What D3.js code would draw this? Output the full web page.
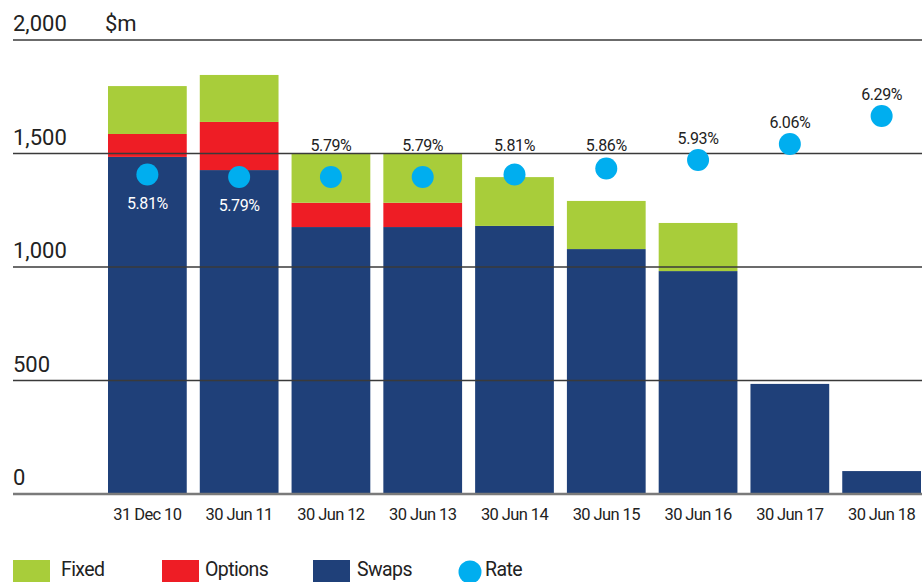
<!DOCTYPE html>
<meta charset="utf-8">
<html>
<head>
<script src="https://d3js.org/d3.v7.min.js"></script>
<style>
  body { margin: 0; background: #fff; }
  text { font-family: "Roboto", "Open Sans", sans-serif; fill: #222; }
</style>
</head>
<body>
<div id="chart"></div>
<script>

// data
var dates   = ["31 Dec 10", "30 Jun 11", "30 Jun 12", "30 Jun 13", "30 Jun 14", "30 Jun 15", "30 Jun 16", "30 Jun 17", "30 Jun 18"];
var swaps   = [1485, 1427, 1176, 1176, 1181, 1079, 982, 485, 101];
var options = [101, 212, 107, 107, 0, 0, 0, 0, 0];
var fixed   = [211, 207, 217, 217, 215, 212, 212, 0, 0];
var rates   = [5.81, 5.79, 5.79, 5.79, 5.81, 5.86, 5.93, 6.06, 6.29];
var yTicks  = [0, 500, 1000, 1500, 2000];

var W = 922, H = 582;
var colors = { Fixed: "#a8cd3a", Options: "#ee1d25", Swaps: "#1f4079", Rate: "#00aeef" };

var svg = d3.select("#chart").append("svg")
    .attr("width", W)
    .attr("height", H);

var x = d3.scaleBand()
  .domain(dates)
  .range([108, 921])
  .paddingInner(0.142)
  .paddingOuter(0);

var y = d3.scaleLinear()
  .domain([0, 2000])
  .range([494, 40]);

// rate uses its own hidden axis
var yRate = d3.scaleLinear()
  .domain([5.79, 6.29])
  .range([177, 116]);

// stacked table: swaps bottom, then options, then fixed
var table = dates.map(function(d, i) {
  return { date: d, Swaps: swaps[i], Options: options[i], Fixed: fixed[i] };
});
var stack = d3.stack().keys(["Swaps", "Options", "Fixed"])(table);

var layers = svg.append("g").selectAll("g")
  .data(stack)
  .enter().append("g")
    .attr("fill", function(s) { return colors[s.key]; });

layers.selectAll("rect")
  .data(function(s) { return s; })
  .enter().append("rect")
    .attr("x", function(d) { return x(d.data.date); })
    .attr("width", x.bandwidth())
    .attr("y", function(d) { return y(d[1]); })
    .attr("height", function(d) { return y(d[0]) - y(d[1]); });

// gridlines over bars
var grid = svg.append("g");
grid.selectAll("line")
  .data(yTicks)
  .enter().append("line")
    .attr("x1", 13)
    .attr("x2", W)
    .attr("y1", function(d) { return y(d); })
    .attr("y2", function(d) { return y(d); })
    .attr("stroke", function(d) { return d === 0 ? "#7a7a7a" : "#3a3a3a"; })
    .attr("stroke-width", function(d) { return d === 0 ? 2.5 : 1.4; });

grid.selectAll("text")
  .data(yTicks)
  .enter().append("text")
    .attr("x", 13)
    .attr("y", function(d) { return y(d) - 9; })
    .style("font-size", "22px")
    .text(function(d) { return d3.format(",")(d); });

svg.append("text")
  .attr("x", 105)
  .attr("y", y(2000) - 9)
  .style("font-size", "22px")
  .text("$m");

// x labels
svg.append("g").selectAll("text")
  .data(dates)
  .enter().append("text")
    .attr("x", function(d) { return x(d) + x.bandwidth() / 2; })
    .attr("y", 520)
    .attr("text-anchor", "middle")
    .style("font-size", "16.5px")
    .style("letter-spacing", "-0.6px")
    .text(function(d) { return d; });

// rate dots
svg.append("g").selectAll("circle")
  .data(rates)
  .enter().append("circle")
    .attr("cx", function(d, i) { return x(dates[i]) + x.bandwidth() / 2; })
    .attr("cy", function(d) { return yRate(d); })
    .attr("r", 11)
    .attr("fill", colors.Rate);

svg.append("g").selectAll("text")
  .data(rates)
  .enter().append("text")
    .attr("x", function(d, i) { return x(dates[i]) + x.bandwidth() / 2; })
    .attr("y", function(d, i) {
      // first two labels sit inside the bar, below the dot
      if (i < 2) return yRate(d) + 34;
      return Math.min(yRate(d) - 22, y(1500) - 9) + 6;
    })
    .attr("text-anchor", "middle")
    .style("font-size", "16px")
    .style("letter-spacing", "-0.4px")
    .style("fill", function(d, i) { return i < 2 ? "#fff" : "#222"; })
    .text(function(d) { return d.toFixed(2) + "%"; });

// legend
var legend = [
  { key: "Fixed", x: 13, tx: 48 },
  { key: "Options", x: 162, tx: 43 },
  { key: "Swaps", x: 313, tx: 44 },
  { key: "Rate", x: 459, tx: 26 }
];
var lg = svg.append("g").selectAll("g")
  .data(legend)
  .enter().append("g")
    .attr("transform", function(d) { return "translate(" + d.x + ",0)"; });

lg.filter(function(d) { return d.key !== "Rate"; })
  .append("rect")
    .attr("x", 0)
    .attr("y", 560)
    .attr("width", 37)
    .attr("height", 24)
    .attr("fill", function(d) { return colors[d.key]; });

lg.filter(function(d) { return d.key === "Rate"; })
  .append("circle")
    .attr("cx", 11)
    .attr("cy", 572)
    .attr("r", 11.5)
    .attr("fill", colors.Rate);

lg.append("text")
  .attr("x", function(d) { return d.tx; })
  .attr("y", 576)
  .style("font-size", "19.5px")
  .style("letter-spacing", "-0.6px")
  .text(function(d) { return d.key; });

</script>
</body>
</html>
